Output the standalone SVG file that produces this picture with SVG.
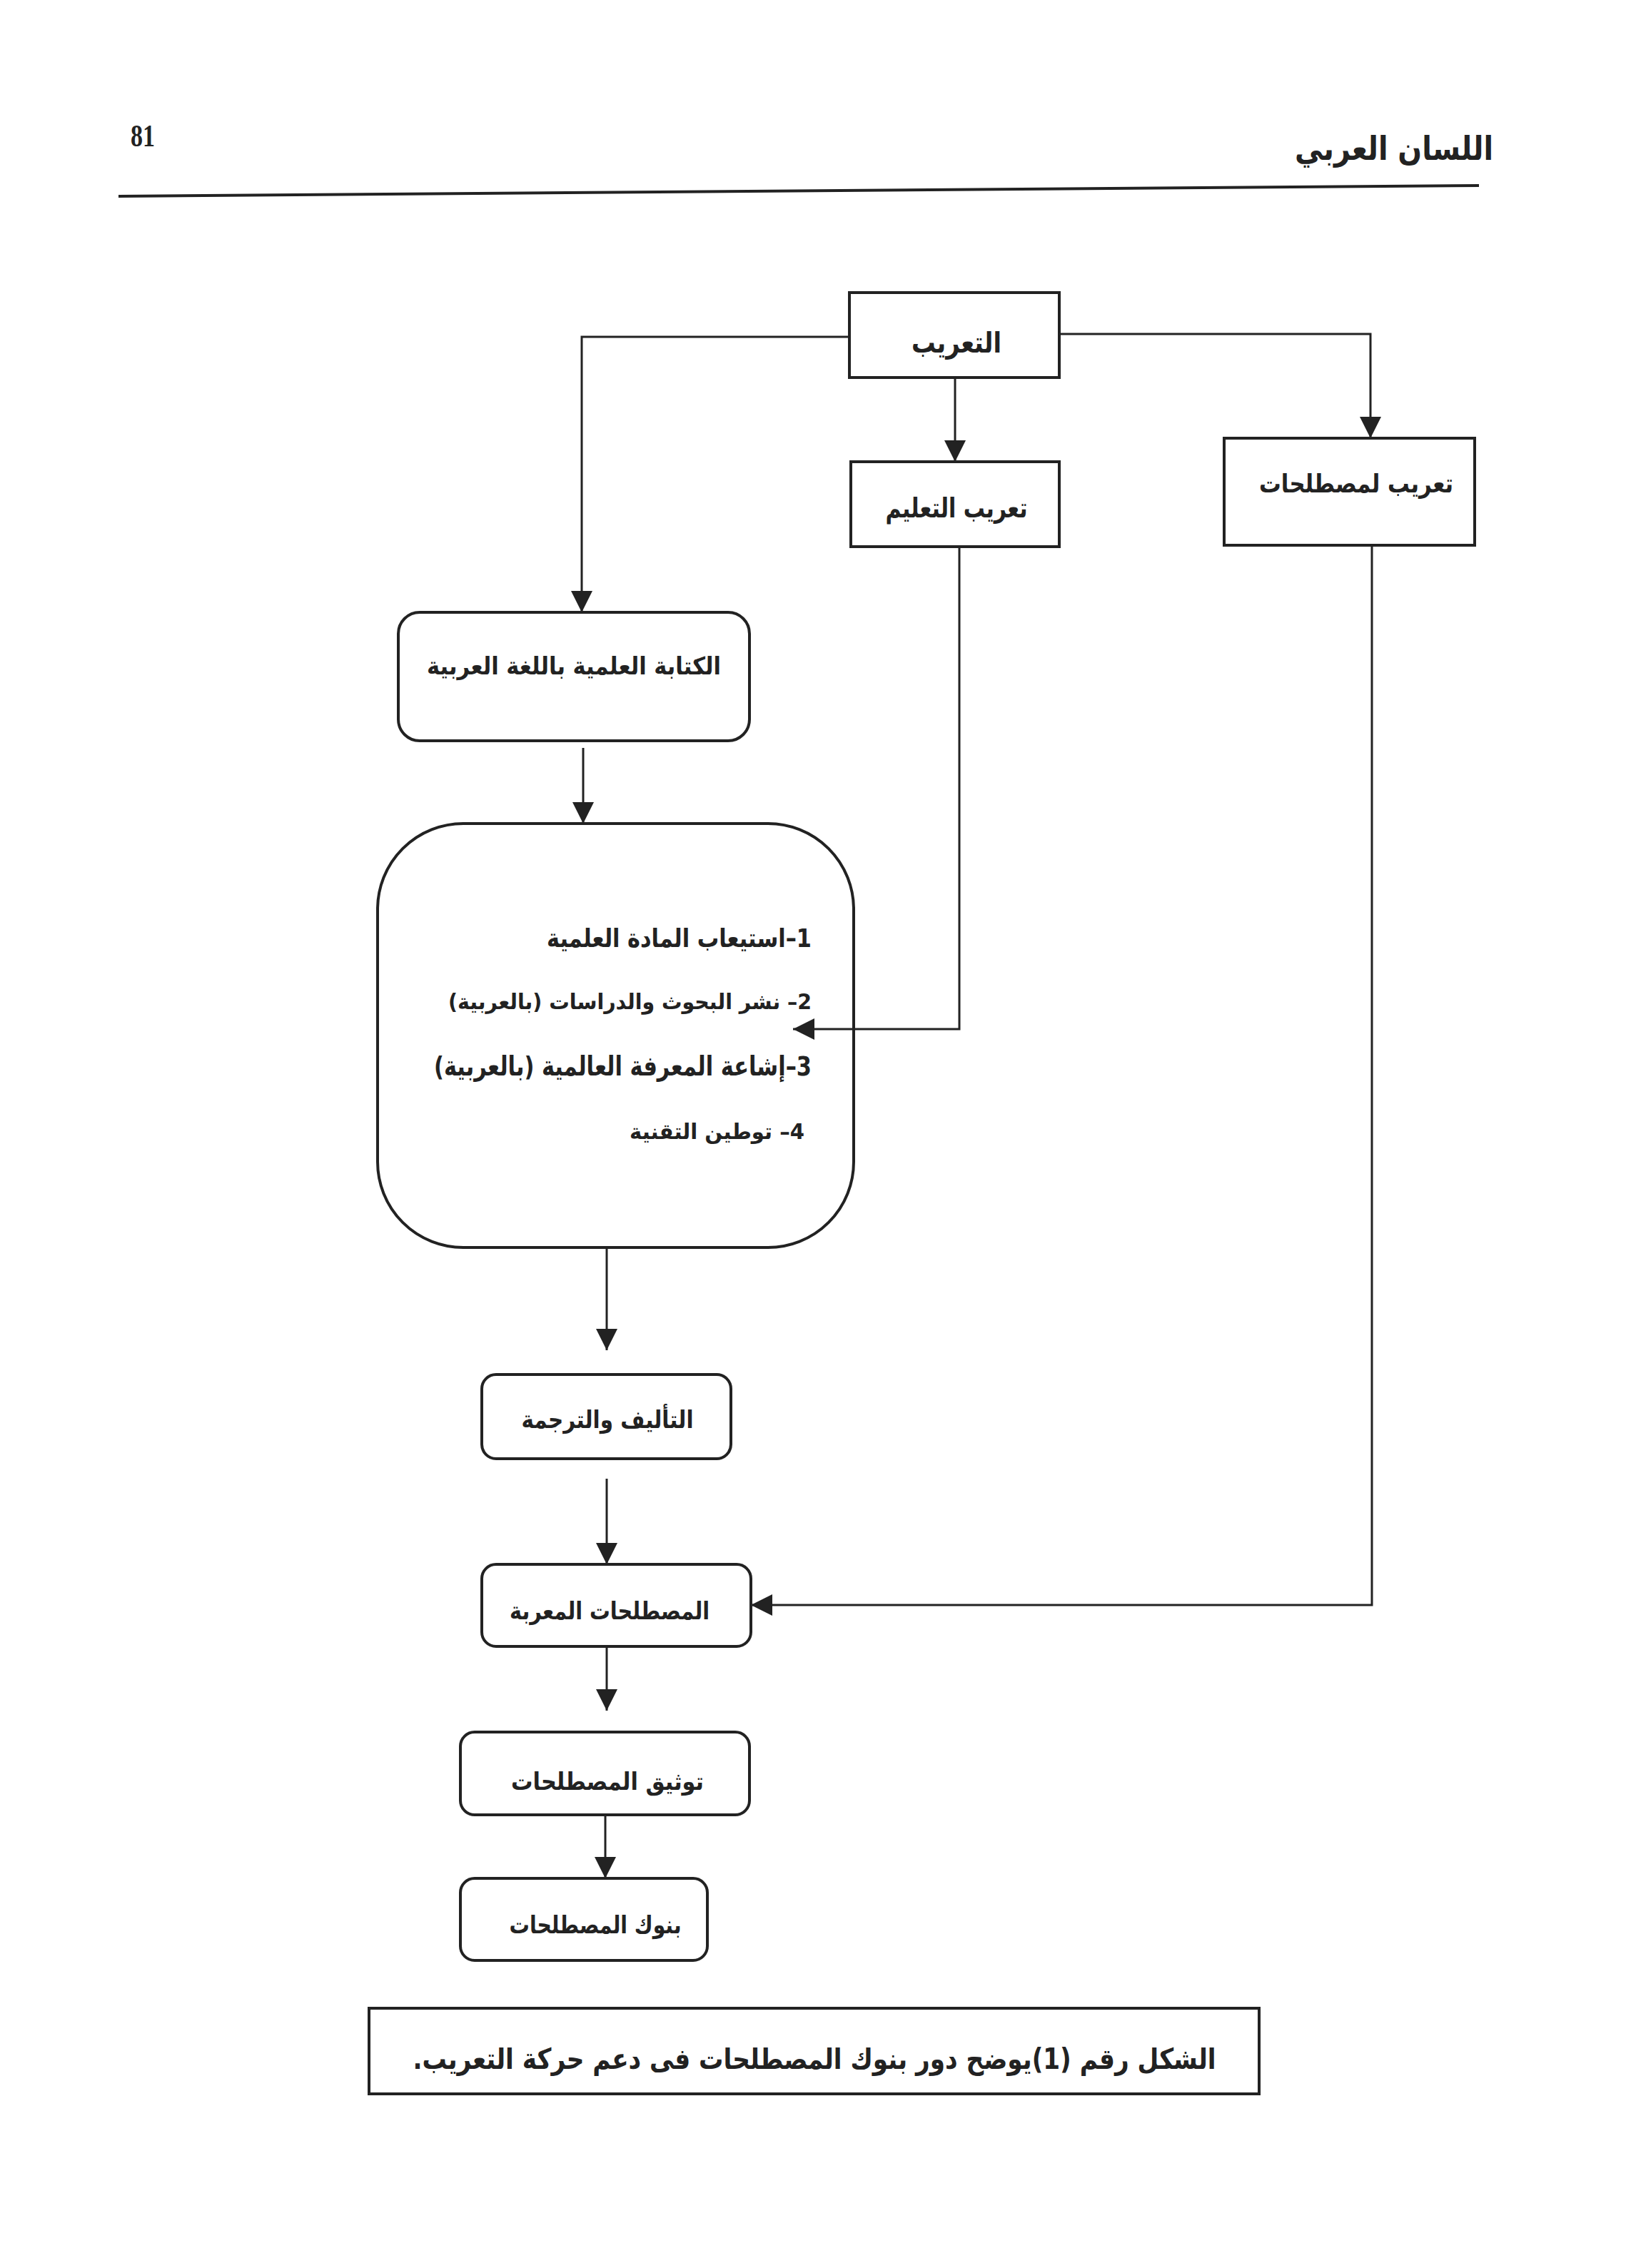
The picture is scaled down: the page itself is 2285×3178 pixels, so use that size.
<svg xmlns="http://www.w3.org/2000/svg" width="2285" height="3178" viewBox="0 0 2285 3178">
<style>
.box{fill:none;stroke:#222;stroke-width:4}
.conn{fill:none;stroke:#222;stroke-width:3}
.ar{font-family:"DejaVu Sans",sans-serif;font-weight:bold;fill:#222;direction:rtl}
.c{text-anchor:middle}
.r{text-anchor:start}
</style>
<defs>
<marker id="arr" viewBox="0 0 30 30" refX="30" refY="15" markerWidth="30" markerHeight="30" markerUnits="userSpaceOnUse" orient="auto">
<path d="M0,0 L30,15 L0,30 z" fill="#222"/>
</marker>
</defs>
<rect width="2285" height="3178" fill="#fff"/>
<g id="header">
<text x="183" y="205" font-family="Liberation Serif,serif" font-weight="bold" font-size="44" fill="#222" textLength="34" lengthAdjust="spacingAndGlyphs">81</text>
<text x="2092" y="224" class="ar r" font-size="46" textLength="278" lengthAdjust="spacingAndGlyphs">اللسان العربي</text>
<line x1="166" y1="275" x2="2072" y2="260" stroke="#222" stroke-width="4"/>
</g>
<g id="connectors">
<path class="conn" d="M1190,472 H815 V858" marker-end="url(#arr)"/>
<path class="conn" d="M1338,529 V647" marker-end="url(#arr)"/>
<path class="conn" d="M1484,468 H1920 V614" marker-end="url(#arr)"/>
<path class="conn" d="M1344,766 V1442 H1111" marker-end="url(#arr)"/>
<path class="conn" d="M1922,764 V2249 H1052" marker-end="url(#arr)"/>
<path class="conn" d="M817,1048 V1154" marker-end="url(#arr)"/>
<path class="conn" d="M850,1748 V1892" marker-end="url(#arr)"/>
<path class="conn" d="M850,2072 V2192" marker-end="url(#arr)"/>
<path class="conn" d="M850,2307 V2397" marker-end="url(#arr)"/>
<path class="conn" d="M848,2543 V2632" marker-end="url(#arr)"/>
</g>
<g id="n-taarib">
<rect class="box" x="1190" y="410" width="294" height="119"/>
<text x="1340" y="494" class="ar c" font-size="40" textLength="126" lengthAdjust="spacingAndGlyphs">التعريب</text>
</g>
<g id="n-taarib-talim">
<rect class="box" x="1192" y="647" width="292" height="119"/>
<text x="1340" y="725" class="ar c" font-size="38" textLength="199" lengthAdjust="spacingAndGlyphs">تعريب التعليم</text>
</g>
<g id="n-taarib-mustalahat">
<rect class="box" x="1715" y="614" width="351" height="150"/>
<text x="1900" y="690" class="ar c" font-size="36" textLength="272" lengthAdjust="spacingAndGlyphs">تعريب  لمصطلحات</text>
</g>
<g id="n-kitaba">
<rect class="box" x="558" y="858" width="492" height="180" rx="30"/>
<text x="804" y="945" class="ar c" font-size="34" textLength="412" lengthAdjust="spacingAndGlyphs">الكتابة العلمية باللغة العربية</text>
</g>
<g id="n-list">
<rect class="box" x="529" y="1154" width="667" height="594" rx="120"/>
<text x="1137" y="1327" class="ar r" font-size="36" textLength="371" lengthAdjust="spacingAndGlyphs">1–استيعاب المادة العلمية</text>
<text x="1137" y="1414" class="ar r" font-size="30" textLength="509" lengthAdjust="spacingAndGlyphs">2– نشر البحوث والدراسات (بالعربية)</text>
<text x="1137" y="1507" class="ar r" font-size="38" textLength="529" lengthAdjust="spacingAndGlyphs">3–إشاعة المعرفة العالمية (بالعربية)</text>
<text x="1127" y="1596" class="ar r" font-size="30" textLength="245" lengthAdjust="spacingAndGlyphs">4– توطين التقنية</text>
</g>
<g id="n-talif">
<rect class="box" x="675" y="1926" width="349" height="118" rx="20"/>
<text x="851" y="2001" class="ar c" font-size="34" textLength="241" lengthAdjust="spacingAndGlyphs">التأليف والترجمة</text>
</g>
<g id="n-muarraba">
<rect class="box" x="675" y="2192" width="377" height="115" rx="20"/>
<text x="854" y="2269" class="ar c" font-size="34" textLength="280" lengthAdjust="spacingAndGlyphs">المصطلحات المعربة</text>
</g>
<g id="n-tawthiq">
<rect class="box" x="645" y="2427" width="405" height="116" rx="20"/>
<text x="851" y="2508" class="ar c" font-size="34" textLength="270" lengthAdjust="spacingAndGlyphs">توثيق المصطلحات</text>
</g>
<g id="n-bunuk">
<rect class="box" x="645" y="2632" width="346" height="115" rx="20"/>
<text x="834" y="2709" class="ar c" font-size="34" textLength="241" lengthAdjust="spacingAndGlyphs">بنوك المصطلحات</text>
</g>
<g id="caption">
<rect class="box" x="517" y="2814" width="1247" height="120"/>
<text x="1141" y="2899" class="ar c" font-size="40" textLength="1125" lengthAdjust="spacingAndGlyphs">الشكل رقم (1)يوضح دور بنوك المصطلحات فى دعم حركة التعريب.</text>
</g>
</svg>
